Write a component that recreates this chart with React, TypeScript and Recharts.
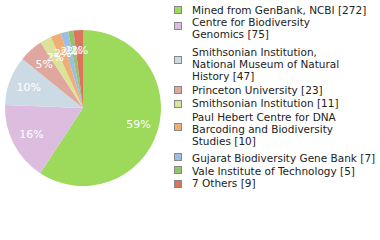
import { PieChart, Pie, Cell } from "recharts";

const names = [
  "Mined from GenBank, NCBI [272]",
  "Centre for Biodiversity Genomics [75]",
  "Smithsonian Institution, National Museum of Natural History [47]",
  "Princeton University [23]",
  "Smithsonian Institution [11]",
  "Paul Hebert Centre for DNA Barcoding and Biodiversity Studies [10]",
  "Gujarat Biodiversity Gene Bank [7]",
  "Vale Institute of Technology [5]",
  "7 Others [9]",
];
const legendLines = [
  ["Mined from GenBank, NCBI [272]"],
  ["Centre for Biodiversity", "Genomics [75]"],
  ["Smithsonian Institution,", "National Museum of Natural", "History [47]"],
  ["Princeton University [23]"],
  ["Smithsonian Institution [11]"],
  ["Paul Hebert Centre for DNA", "Barcoding and Biodiversity", "Studies [10]"],
  ["Gujarat Biodiversity Gene Bank [7]"],
  ["Vale Institute of Technology [5]"],
  ["7 Others [9]"],
];
const counts = [272, 75, 47, 23, 11, 10, 7, 5, 9];
const colors = [
  "#9dd95a",
  "#dcbde0",
  "#ccdae6",
  "#e0a79e",
  "#dde29b",
  "#f0ae74",
  "#9dbde2",
  "#92c46c",
  "#dc735c",
];
// legend square centres (y) and first text line centres (y)
const legendY = [10, 26, 60, 90, 104, 127, 157, 170, 184];
const textY = [10, 22, 52, 90, 103, 117, 158, 171, 183];

const total = counts.reduce((a, b) => a + b, 0);
const data = names.map((n, i) => ({ name: n, value: counts[i] }));

const RAD = Math.PI / 180;

function renderLabel(props: any) {
  const { cx, cy, midAngle, value } = props;
  const r = 58;
  const x = cx + r * Math.cos(-midAngle * RAD);
  const y = cy + r * Math.sin(-midAngle * RAD);
  return (
    <text
      x={x}
      y={y}
      fill="#fff"
      fontSize={11}
      fontFamily="DejaVu Sans"
      textAnchor="middle"
      dominantBaseline="central"
    >
      {Math.round((value / total) * 100)}%
    </text>
  );
}

export default function App() {
  return (
    <div style={{ position: "absolute", left: 0, top: 0, width: 380, height: 240, background: "#fff" }}>
      <PieChart
        width={380}
        height={240}
        margin={{ top: 0, right: 0, bottom: 0, left: 0 }}
        style={{ position: "absolute", left: 0, top: 0 }}
      >
        <Pie
          data={data}
          dataKey="value"
          cx={83}
          cy={108}
          outerRadius={78}
          startAngle={90}
          endAngle={-270}
          stroke="none"
          label={renderLabel}
          labelLine={false}
          isAnimationActive={false}
        >
          {data.map((d, i) => (
            <Cell key={d.name} fill={colors[i]} />
          ))}
        </Pie>
      </PieChart>
      <svg width={380} height={240} style={{ position: "absolute", left: 0, top: 0, pointerEvents: "none" }}>
        {legendLines.map((lines, i) => (
          <g key={i}>
            <rect
              x={174.5}
              y={legendY[i] - 3.5}
              width={7}
              height={7}
              fill={colors[i]}
              stroke="#888"
              strokeWidth={1}
            />
            {lines.map((t, j) => (
              <text
                key={j}
                x={192}
                y={textY[i] + j * 11.8}
                fontSize={10.5}
                fontFamily="DejaVu Sans"
                fill="#222"
                dominantBaseline="central"
              >
                {t}
              </text>
            ))}
          </g>
        ))}
      </svg>
    </div>
  );
}
